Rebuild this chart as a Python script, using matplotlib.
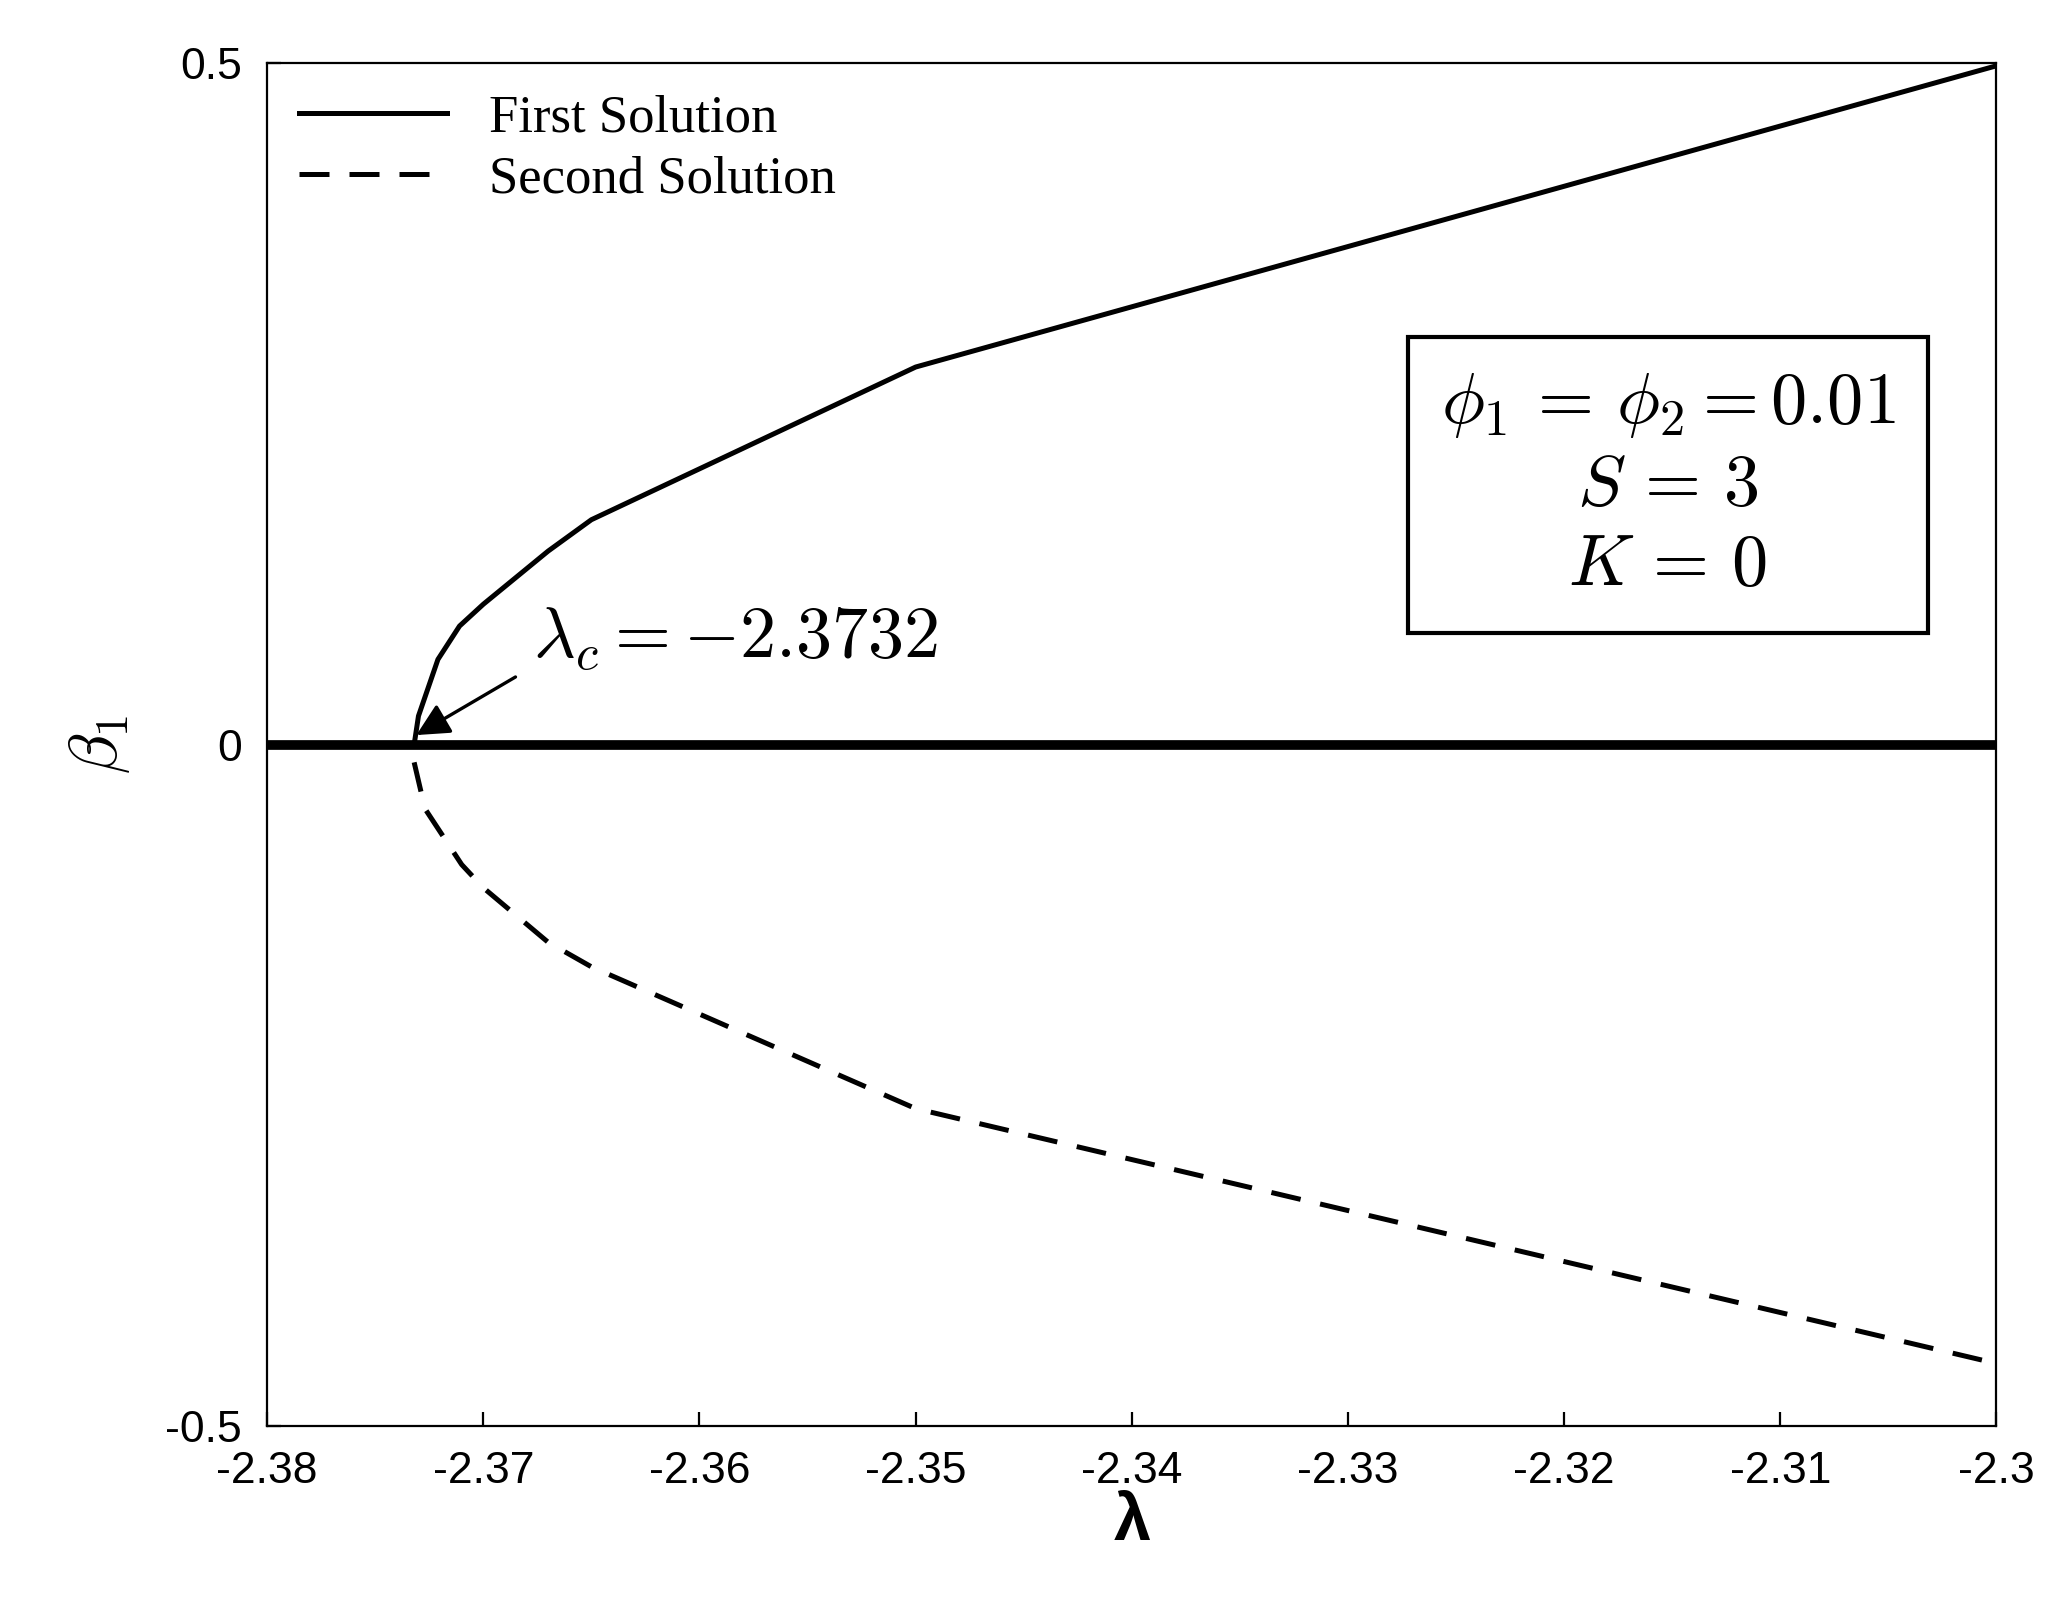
import numpy as np
import matplotlib.pyplot as plt

plt.rcParams["font.family"] = ["Liberation Sans", "DejaVu Sans"]
plt.rcParams["mathtext.fontset"] = "cm"

# first solution (upper branch)
lam_first = [-2.3732, -2.3730, -2.3721, -2.3711, -2.3700, -2.3670, -2.3650, -2.3500, -2.3000]
beta_first = [0.0, 0.021, 0.0625, 0.087, 0.103, 0.142, 0.165, 0.277, 0.498]
# second solution (lower branch)
lam_second = [-2.3732, -2.3727, -2.3710, -2.3700, -2.3670, -2.3650, -2.3500, -2.3000]
beta_second = [-0.013, -0.047, -0.088, -0.105, -0.145, -0.163, -0.267, -0.454]
lam_zero = [-2.38, -2.30]
beta_zero = [0.0, 0.0]

fig = plt.figure(figsize=(10.355, 8.085), dpi=200)
ax = fig.add_axes([0.129, 0.118, 0.835, 0.843])

ax.plot(lam_first, beta_first, "k-", lw=1.8, label="First Solution")
ax.plot(lam_second, beta_second, "k--", lw=1.8, dashes=(6, 4), label="Second Solution")
ax.plot(lam_zero, beta_zero, "k-", lw=3.5)

ax.set_xlim(-2.38, -2.30)
ax.set_ylim(-0.5, 0.5)
ax.set_xticks(np.arange(-2.38, -2.299, 0.01))
ax.set_xticklabels(["-2.38", "-2.37", "-2.36", "-2.35", "-2.34", "-2.33", "-2.32", "-2.31", "-2.3"])
ax.set_yticks([-0.5, 0, 0.5])
ax.set_yticklabels(["-0.5", "0", "0.5"])
ax.tick_params(direction="in", labelsize=16, length=5, pad=9, top=False, right=False)
ax.set_xlabel("λ", fontsize=24, fontweight="bold", labelpad=0)
ax.set_ylabel("β$_\\mathbf{1}$", fontsize=24, fontweight="bold", style="italic", labelpad=12)
ax.yaxis.label.set_text(r"$\beta_1$")

ax.legend(loc="upper left", frameon=False, prop={"family": "Liberation Serif", "size": 19},
          handlelength=2.8, borderaxespad=0.2, labelspacing=0.25)

ax.annotate(r"$\lambda_c = -2.3732$", xy=(-2.3731, 0.007), xytext=(-2.3677, 0.077),
            fontsize=26, ha="left", va="center",
            arrowprops=dict(arrowstyle="-|>", color="k", lw=1.2, mutation_scale=25,
                            shrinkA=5, shrinkB=0, relpos=(0, 0.1)))

ax.text(-2.3152, 0.19, r"$\phi_1\,=\,\phi_2{=}0.01$" + "\n" + r"$S\,=\,3$" + "\n" + r"$K\,=\,0$",
        fontsize=26, ha="center", va="center", linespacing=1.25,
        bbox=dict(boxstyle="square,pad=0.45", fc="white", ec="k", lw=1.5))

fig.savefig("out.png", dpi=200)
